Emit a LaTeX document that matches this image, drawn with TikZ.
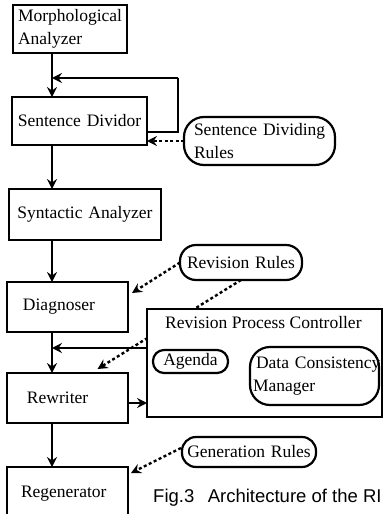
\documentclass[tikz,border=0pt]{standalone}
\usepackage{fontspec}
\setmainfont{Liberation Serif}
\newfontfamily\capfont{Liberation Sans}
\usetikzlibrary{arrows.meta,calc}
\newcommand\boxfont{\fontsize{17.5}{23}\selectfont\hyphenpenalty=10000\relax\exhyphenpenalty=10000\relax}
\begin{document}
\begin{tikzpicture}[x=1pt,y=-1pt,
  box/.style={draw,line width=2.2pt,anchor=north west,inner sep=0pt,outer sep=0pt,
    font=\boxfont},
  rbox/.style={box,rounded corners=#1},
  flow/.style={line width=2pt,-{Stealth[length=10pt,width=10pt,inset=3.5pt]}},
  refline/.style={line width=2.4pt,dash pattern=on 3pt off 2.5pt},
  ref/.style={refline,-{Stealth[length=10pt,width=10pt,inset=3.5pt]}},
  ]
\path[clip] (0,0) rectangle (383,514);
\fill[white] (0,0) rectangle (383,514);
% main column
\node[box,minimum width=114pt,minimum height=48pt,text width=104pt,align=left] (morph) at (13,5) {Morphological\\Analyzer};
\node[box,minimum width=135pt,minimum height=48pt,text width=125pt,align=center] (divid) at (12,97) {Sentence~Dividor};
\node[box,minimum width=152pt,minimum height=51pt,text width=140pt,align=center] (synt) at (9,189) {Syntactic~Analyzer};
\node[box,minimum width=121pt,minimum height=50pt,text width=89pt,align=left] (diag) at (7,282) {Diagnoser};
\node[box,minimum width=121pt,minimum height=50pt,text width=81pt,align=left] (rewr) at (7,373) {Rewriter};
\node[box,minimum width=121pt,minimum height=54pt,text width=93pt,align=left] (regen) at (7,467) {Regenerator};
% rule bases
\node[rbox=20pt,minimum width=151pt,minimum height=48pt,text width=131pt,align=left] (sdr) at (184,117) {Sentence~Dividing\\Rules};
\node[rbox=16pt,minimum width=122pt,minimum height=35pt,text width=110pt,align=center] (revr) at (180,245) {Revision~Rules};
\node[rbox=14pt,minimum width=134pt,minimum height=30pt,text width=124pt,align=center] (genr) at (182,437) {Generation~Rules};
% spine
\coordinate (sp) at (52,0);
\coordinate (loopTR) at (178,78);
% dotted line from Revision Rules to Rewriter (partly hidden by controller box)
\draw[ref] (revr.south) -- ($(rewr.north)+(30,-4)$);
% revision process controller
\node[box,fill=white,minimum width=235pt,minimum height=108pt] (rpc) at (147,309) {};
\node[anchor=west,inner sep=0pt,font=\boxfont] (rpct) at ($(rpc.north west)+(18,14)$) {Revision Process Controller};
\node[rbox=11pt,minimum width=75pt,minimum height=23pt,text width=71pt,align=center] (agenda) at (153,350) {Agenda};
\node[rbox=20pt,minimum width=129pt,minimum height=58pt,text width=123pt,align=left] (dcm) at (250,347) {\hspace*{3pt}Data~Consistency\\Manager};
% connectors
\draw[flow] (morph.south -| sp) -- (divid.north -| sp);
\draw[line width=2pt] ($(divid.south east)+(0,-13)$) -| (loopTR);
\draw[flow] (loopTR) -- (loopTR -| sp);
\draw[ref] (sdr.west) -- (divid.east |- sdr.west);
\draw[flow] (divid.south -| sp) -- (synt.north -| sp);
\draw[flow] (synt.south -| sp) -- (diag.north -| sp);
\draw[ref] (revr.west) -- ($(diag.north east)+(4,11)$);
\coordinate (rpcA) at ($(rpc.north west)+(0,39)$);
\draw[flow] (rpcA) -- (rpcA -| sp);
\draw[flow] (diag.south -| sp) -- (rewr.north -| sp);
\coordinate (rwA) at ($(rewr.north east)+(0,30)$);
\draw[flow] (rwA) -- (rwA -| rpc.west);
\draw[flow] (rewr.south -| sp) -- (regen.north -| sp);
\draw[ref] ($(genr.west)+(-1,-4)$) -- ($(regen.north east)+(3,6)$);
% caption
\node[anchor=base west,inner sep=0pt,font=\capfont\fontsize{18.5}{22}\selectfont] (cap) at (153,502) {Fig.3\hspace{0.45em} Architecture of the RI};
\end{tikzpicture}
\end{document}
